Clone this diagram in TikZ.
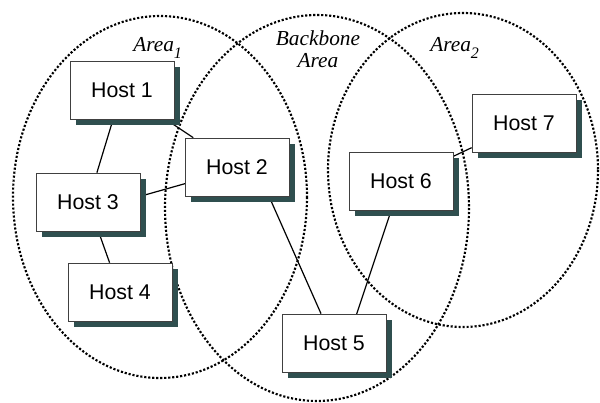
\documentclass[tikz,border=0pt]{standalone}
\usepackage{fontspec}
\setmainfont{Liberation Sans}
\newfontfamily\areafont{Liberation Serif}
\usetikzlibrary{shadows,backgrounds,calc}
\definecolor{hostshadow}{HTML}{2F4F4F}
\tikzset{
  host/.style={draw=black!75, line width=0.5pt, fill=white,
    minimum width=78pt, minimum height=43.5pt, inner sep=0pt,
    font=\fontsize{16}{18}\selectfont,
    drop shadow={shadow xshift=4.5pt, shadow yshift=-4.5pt, fill=hostshadow, opacity=1}},
  area/.style={line width=1.6pt, dash pattern=on 1.6pt off 1.4pt},
  arealabel/.style={font=\fontsize{16}{16.5}\selectfont\areafont\itshape, inner sep=0pt},
  link/.style={line width=0.9pt}
}
\begin{document}
\begin{tikzpicture}[x=0.75pt,y=-0.75pt]
    \useasboundingbox (0,0) rectangle (600,403);
    % hosts
    \node[host] (h1) at (122,90) {Host 1};
    \node[host] (h2) at (237,167) {Host 2};
    \node[host] (h3) at (88,202) {Host 3};
    \node[host] (h4) at (120,292) {Host 4};
    \node[host] (h5) at (334,343) {Host 5};
    \node[host] (h6) at (401,181) {Host 6};
    \node[host] (h7) at (524,123) {Host 7};
    % area labels
    \node[arealabel, anchor=base west] (a1) at (133,52) {Area\raisebox{-5pt}{\fontsize{12}{12}\selectfont 1}};
    \node[arealabel, align=center] (bb) at (318,49) {Backbone\\Area};
    \node[arealabel, anchor=base west] (a2) at (430,52) {Area\raisebox{-5pt}{\fontsize{12}{12}\selectfont 2}};
    \begin{scope}[on background layer]
        \draw[area] (160,197) ellipse (147 and 181);
        \draw[area] (317,208) ellipse (152 and 193);
        \draw[area] (463,170) ellipse (135 and 157);
        % links
        \draw[link] (h1) -- (h3);
        \draw[link] (h1) -- (h2);
        \draw[link] ($(h3)+(0,9)$) -- ($(h2)+(0,2)$);
        \draw[link] (h3) -- (h4);
        \draw[link] ($(h2)+(19,0)$) -- (h5);
        \draw[link] (h6) -- ($(h5)+(13,0)$);
        \draw[link] (h6) -- (h7);
    \end{scope}
\end{tikzpicture}
\end{document}
